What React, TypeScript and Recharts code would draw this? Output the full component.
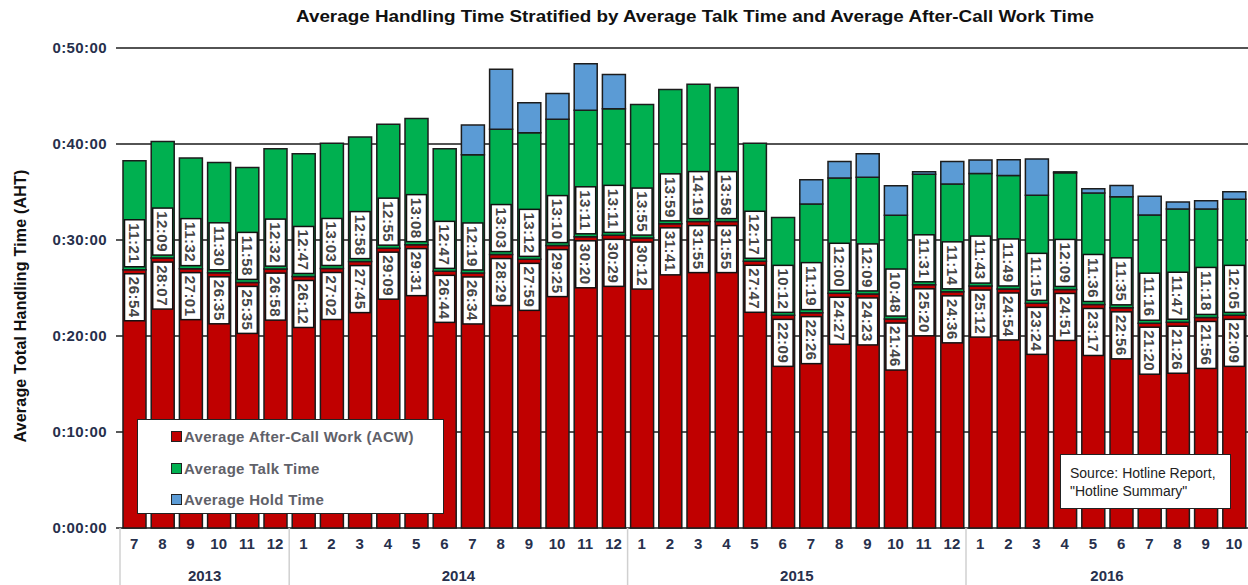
import React from 'react';
import { BarChart, Bar, XAxis, YAxis, CartesianGrid, LabelList, Legend } from 'recharts';

const months = ['7','8','9','10','11','12','1','2','3','4','5','6','7','8','9','10','11','12','1','2','3','4','5','6','7','8','9','10','11','12','1','2','3','4','5','6','7','8','9','10'];
const years = ['2013','2013','2013','2013','2013','2013','2014','2014','2014','2014','2014','2014','2014','2014','2014','2014','2014','2014','2015','2015','2015','2015','2015','2015','2015','2015','2015','2015','2015','2015','2016','2016','2016','2016','2016','2016','2016','2016','2016','2016'];
const acwTimes = ['26:54','28:07','27:01','26:35','25:35','26:58','26:12','27:02','27:45','29:09','29:31','26:44','26:34','28:29','27:59','29:25','30:20','30:29','30:12','31:41','31:55','31:55','27:47','22:09','22:26','24:27','24:23','21:46','25:20','24:36','25:12','24:54','23:24','24:51','23:17','22:56','21:20','21:26','21:56','22:09'];
const talkTimes = ['11:21','12:09','11:32','11:30','11:58','12:32','12:47','13:03','12:58','12:55','13:08','12:47','12:19','13:03','13:12','13:10','13:11','13:11','13:55','13:59','14:19','13:58','12:17','10:12','11:19','12:00','12:09','10:48','11:31','11:14','11:43','11:49','11:15','12:09','11:36','11:35','11:16','11:47','11:18','12:05'];
const holdTimes = ['0:00','0:00','0:00','0:00','0:00','0:00','0:00','0:00','0:00','0:00','0:00','0:00','3:05','6:15','3:07','2:40','4:50','3:35','0:00','0:00','0:00','0:00','0:00','0:00','2:32','1:43','2:27','3:05','0:15','2:20','1:25','1:38','3:48','0:06','0:27','1:10','1:57','0:45','0:52','0:47'];
const yTicks = [0, 10, 20, 30, 40, 50];
const legendOrder = ['acw', 'talk', 'hold'];

const toMin = (s: string) => {
  const [m, sec] = s.split(':').map(Number);
  return m + sec / 60;
};

const data = months.map((m, i) => ({
  idx: i,
  month: m,
  year: years[i],
  acw: toMin(acwTimes[i]),
  talk: toMin(talkTimes[i]),
  hold: toMin(holdTimes[i]),
  acwLabel: acwTimes[i],
  talkLabel: talkTimes[i],
}));

const W = 1248;
const H = 585;
const Y_AXIS_W = 120;
const MARGIN = { top: 48, right: 0, bottom: 0, left: 0 };
const STEP = (W - Y_AXIS_W - MARGIN.left - MARGIN.right) / data.length;
const MONTH_AXIS_H = 30;
const YEAR_AXIS_H = 27;

const RED = '#C00000';
const GREEN = '#00B050';
const BLUE = '#5B9BD5';
const NAVY = '#27304C';
const BAR_STROKE = '#1c1c1c';
const FONT = "'Liberation Sans', Arial, sans-serif";

const BOX_W = 20;
const BOX_H = 47;

const LabelBox = ({ cx, top, value }: { cx: number; top: number; value: string }) => (
  <g>
    <rect x={cx - BOX_W / 2} y={top} width={BOX_W} height={BOX_H} fill="#fff" stroke="#111" strokeWidth={1.5} />
    <text
      x={cx}
      y={top + BOX_H / 2}
      transform={`rotate(90, ${cx}, ${top + BOX_H / 2})`}
      textAnchor="middle"
      dominantBaseline="central"
      fontFamily={FONT}
      fontWeight="bold"
      fontSize={15}
      letterSpacing={0.5}
      fill="#454545"
    >
      {value}
    </text>
  </g>
);

const AcwLabel = (props: any) => {
  const x = Number(props.x), y = Number(props.y), w = Number(props.width);
  return <LabelBox cx={x + w / 2} top={y + 4} value={String(props.value)} />;
};

const TalkLabel = (props: any) => {
  const x = Number(props.x), y = Number(props.y), w = Number(props.width), h = Number(props.height);
  return <LabelBox cx={x + w / 2} top={y + h - 3 - BOX_H} value={String(props.value)} />;
};

const MonthTick = (props: any) => {
  const { x, y, payload } = props;
  const i = payload.index;
  const first = i === 0 || years[i] !== years[i - 1];
  return (
    <g>
      {first && (
        <line x1={x - STEP / 2} x2={x - STEP / 2} y1={y} y2={y + MONTH_AXIS_H + YEAR_AXIS_H} stroke="#d0d0d0" strokeWidth={1.5} />
      )}
      <text x={x} y={y + 21} textAnchor="middle" fontFamily={FONT} fontWeight="bold" fontSize={15} fill={NAVY}>
        {months[i]}
      </text>
    </g>
  );
};

const YearTick = (props: any) => {
  const { x, y, payload } = props;
  const i = payload.index;
  const first = i === 0 || years[i] !== years[i - 1];
  if (!first) return <g />;
  let count = 0;
  while (i + count < years.length && years[i + count] === years[i]) count++;
  const cx = x + ((count - 1) * STEP) / 2;
  return (
    <text x={cx} y={y + 23} textAnchor="middle" fontFamily={FONT} fontWeight="bold" fontSize={15} fill={NAVY}>
      {years[i]}
    </text>
  );
};

const renderLegend = (props: any) => {
  const payload = [...(props.payload || [])].sort(
    (a: any, b: any) => legendOrder.indexOf(String(a.dataKey)) - legendOrder.indexOf(String(b.dataKey))
  );
  return (
    <div
      style={{
        width: 307,
        height: 95,
        boxSizing: 'border-box',
        border: '1.5px solid #222',
        background: '#fff',
        paddingTop: 1,
      }}
    >
      {payload.map((p: any, k: number) => (
        <div key={k} style={{ display: 'flex', alignItems: 'center', height: 31.5, paddingLeft: 33 }}>
          <span style={{ display: 'inline-block', width: 9, height: 9, background: p.color, border: '1.2px solid #222', marginRight: 2 }} />
          <span style={{ fontFamily: FONT, fontWeight: 'bold', fontSize: 15, letterSpacing: 0.3, color: '#5f6169' }}>{p.value}</span>
        </div>
      ))}
    </div>
  );
};

const YLabel = (props: any) => {
  const vb = props.viewBox || {};
  const cx = 20;
  const cy = Number(vb.y) + Number(vb.height) / 2 + 18;
  return (
    <text
      x={cx}
      y={cy}
      transform={`rotate(-90, ${cx}, ${cy})`}
      textAnchor="middle"
      dominantBaseline="central"
      fontFamily={FONT}
      fontWeight="bold"
      fontSize={16}
      letterSpacing={0.2}
      fill="#111"
    >
      Average Total Handling Time (AHT)
    </text>
  );
};

export default function App() {
  return (
    <div style={{ position: 'absolute', left: 0, top: 0, width: W, height: H, background: '#fff', overflow: 'hidden' }}>
      <svg style={{ position: 'absolute', left: 0, top: 0 }} width={W} height={40}>
        <text
          x={695}
          y={22}
          textAnchor="middle"
          fontFamily="'Liberation Sans Narrow', 'Arial Narrow', 'Liberation Sans', Arial, sans-serif"
          fontWeight="bold"
          fontSize={17}
          textLength={798}
          lengthAdjust="spacingAndGlyphs"
          fill="#111"
        >
          Average Handling Time Stratified by Average Talk Time and Average After-Call Work Time
        </text>
      </svg>
      <BarChart width={W} height={H} data={data} margin={MARGIN} barSize={23}>
        <CartesianGrid vertical={false} stroke="#1a1a1a" strokeWidth={1.5} />
        <XAxis
          xAxisId="m"
          dataKey="idx"
          height={MONTH_AXIS_H}
          tickLine={false}
          axisLine={false}
          tickSize={0}
          tickMargin={0}
          interval={0}
          tick={<MonthTick />}
        />
        <XAxis
          xAxisId="y"
          dataKey="idx"
          height={YEAR_AXIS_H}
          tickLine={false}
          axisLine={false}
          tickSize={0}
          tickMargin={0}
          interval={0}
          tick={<YearTick />}
        />
        <YAxis
          width={Y_AXIS_W}
          domain={[0, 50]}
          ticks={yTicks}
          interval={0}
          axisLine={false}
          tickSize={4}
          tickMargin={9}
          tickLine={{ stroke: '#222', strokeWidth: 1.5 }}
          tickFormatter={(v: number) => `0:${String(v).padStart(2, '0')}:00`}
          tick={{ fontFamily: FONT, fontWeight: 'bold', fontSize: 15, fill: NAVY, letterSpacing: 0.4 }}
          label={<YLabel />}
        />
        <Legend
          layout="vertical"
          align="center"
          verticalAlign="middle"
          content={renderLegend}
          wrapperStyle={{ position: 'absolute', left: 137, top: 419, width: 307, height: 95 }}
        />
        <Bar xAxisId="m" dataKey="acw" name="Average After-Call Work (ACW)" stackId="s" fill={RED} stroke={BAR_STROKE} strokeWidth={1.5} isAnimationActive={false}>
          <LabelList dataKey="acwLabel" content={<AcwLabel />} />
        </Bar>
        <Bar xAxisId="m" dataKey="talk" name="Average Talk Time" stackId="s" fill={GREEN} stroke={BAR_STROKE} strokeWidth={1.5} isAnimationActive={false}>
          <LabelList dataKey="talkLabel" content={<TalkLabel />} />
        </Bar>
        <Bar xAxisId="m" dataKey="hold" name="Average Hold Time" stackId="s" fill={BLUE} stroke={BAR_STROKE} strokeWidth={1.5} isAnimationActive={false} />
      </BarChart>
      <div
        style={{
          position: 'absolute',
          left: 1060,
          top: 454,
          width: 171,
          height: 55,
          boxSizing: 'border-box',
          border: '1.5px solid #222',
          background: '#fff',
          fontFamily: FONT,
          fontSize: 14,
          color: '#222',
          lineHeight: '17.5px',
          padding: '10px 0 0 9px',
        }}
      >
        Source: Hotline Report,
        <br />
        "Hotline Summary"
      </div>
    </div>
  );
}
